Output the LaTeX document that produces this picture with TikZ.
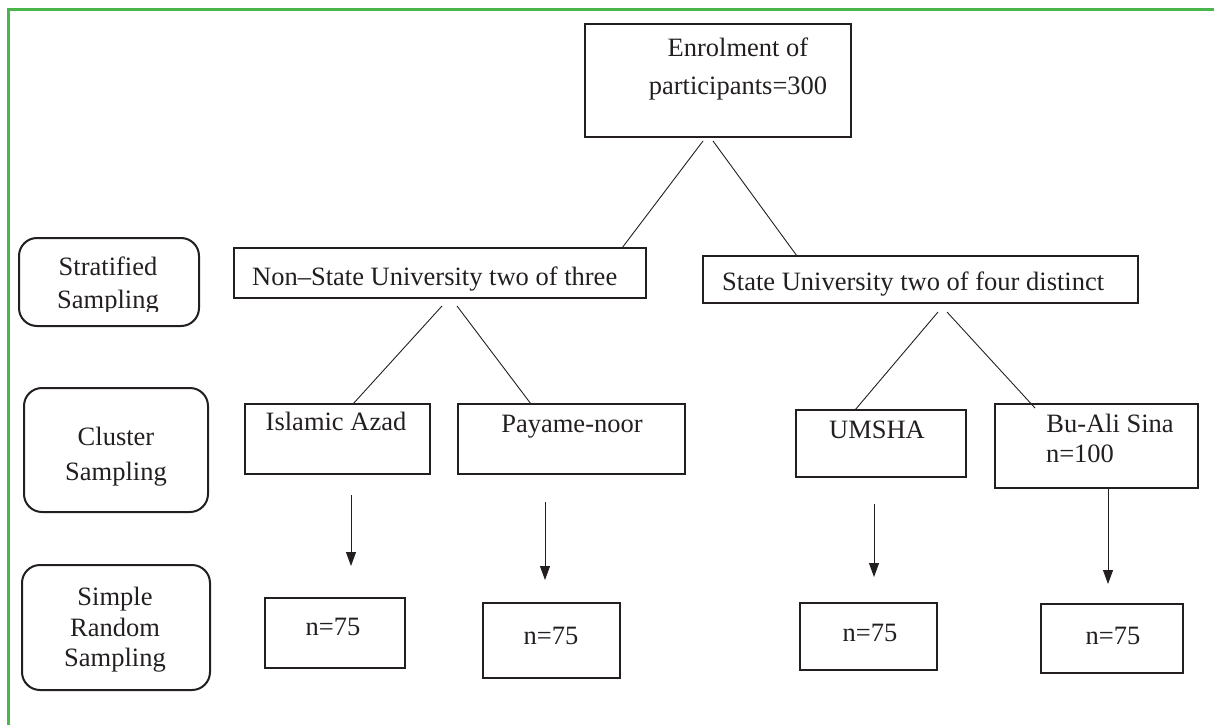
\documentclass[tikz,border=0pt]{standalone}
\usepackage{fontspec}
\setmainfont{Liberation Serif}
\usetikzlibrary{arrows.meta}
\definecolor{frame}{RGB}{72,182,76}
\definecolor{ink}{RGB}{35,31,32}
\begin{document}
\begin{tikzpicture}[x=1pt,y=-1pt,
  box/.style={draw=ink,line width=2.2pt,inner sep=0pt},
  rbox/.style={draw=ink,line width=2pt,rounded corners=18pt,inner sep=0pt},
  txt/.style={inner sep=0pt,font=\fontsize{26.5}{36}\selectfont,text=ink,align=center},
  link/.style={draw=ink,line width=0.9pt},
  arr/.style={draw=ink,line width=0.9pt,-{Triangle[width=10pt,length=14pt]}}]
\useasboundingbox (0,0) rectangle (1214,725);
\draw[frame,line width=3pt] (1214,10) -- (8,10) -- (8,725);

% boxes
\node[box,minimum width=266pt,minimum height=113pt] (top) at (718,80.5) {};
\node[rbox,minimum width=180pt,minimum height=88pt] (strat) at (109,282) {};
\node[box,minimum width=412pt,minimum height=50pt] (ns) at (440,273) {};
\node[box,minimum width=435pt,minimum height=47pt] (st) at (920.5,279.5) {};
\node[rbox,minimum width=184pt,minimum height=124pt] (clus) at (116,450) {};
\node[box,minimum width=185pt,minimum height=70pt] (ia) at (337.5,439) {};
\node[box,minimum width=227pt,minimum height=70pt] (pn) at (571.5,439) {};
\node[box,minimum width=170pt,minimum height=67pt] (um) at (881,443.5) {};
\node[box,minimum width=203pt,minimum height=84pt] (bu) at (1096.5,446) {};
\node[rbox,minimum width=188pt,minimum height=125pt] (srs) at (116,627.5) {};
\node[box,minimum width=140pt,minimum height=70pt] (n1) at (335,633) {};
\node[box,minimum width=137pt,minimum height=75pt] (n2) at (551.5,640.5) {};
\node[box,minimum width=137pt,minimum height=67pt] (n3) at (868.5,636.5) {};
\node[box,minimum width=142pt,minimum height=69pt] (n4) at (1112,638.5) {};

% texts
\node[txt,font=\fontsize{26.5}{38}\selectfont] (ttop) at (738,69) {Enrolment of\\participants=300};
\begin{scope}
  \clip (0,0) rectangle (1214,311);
  \node[txt,font=\fontsize{26.5}{33}\selectfont] (tstrat) at (108,286) {Stratified\\Sampling};
\end{scope}
\begin{scope}
  \clip (0,0) rectangle (1214,291.5);
  \node[txt,anchor=base west] (tns) at (252,285) {Non–State University two of three};
\end{scope}
\node[txt,anchor=base west] (tst) at (722,290) {State University two of four distinct};
\node[txt,font=\fontsize{26.5}{35}\selectfont] (tclus) at (116,457) {Cluster\\Sampling};
\node[txt,anchor=base] (tia) at (336,430) {Islamic Azad};
\node[txt,anchor=base] (tpn) at (572,432) {Payame-noor};
\node[txt,anchor=base] (tum) at (877,438) {UMSHA};
\node[txt,anchor=base] (tbu) at (1110,432) {Bu-Ali Sina};
\node[txt,anchor=base] (tbun) at (1080,462) {n=100};
\node[txt,font=\fontsize{26.5}{30.5}\selectfont] (tsrs) at (115,630) {Simple\\Random\\Sampling};
\node[txt,anchor=base] (tn1) at (333,635) {n=75};
\node[txt,anchor=base] (tn2) at (551,644) {n=75};
\node[txt,anchor=base] (tn3) at (870,641) {n=75};
\node[txt,anchor=base] (tn4) at (1113,644) {n=75};

% connector end points
\coordinate (c1) at (703,141);
\coordinate (c2) at (713,141);
\coordinate (c3) at (622,248);
\coordinate (c4) at (797,256);
\coordinate (d1) at (442,306);
\coordinate (d2) at (457,306);
\coordinate (d3) at (353,404);
\coordinate (d4) at (531,404);
\coordinate (e1) at (938,312);
\coordinate (e2) at (947,312);
\coordinate (e3) at (855,410);
\coordinate (e4) at (1035,408);
\coordinate (f1) at (351,495);
\coordinate (f2) at (545,502);
\coordinate (f3) at (874,504);
\coordinate (g1) at (351,566);
\coordinate (g2) at (545,580);
\coordinate (g3) at (874,577);
\coordinate (g4) at (1108,584);

\draw[link] (c1) -- (c3);
\draw[link] (c2) -- (c4);
\draw[link] (d1) -- (d3);
\draw[link] (d2) -- (d4);
\draw[link] (e1) -- (e3);
\draw[link] (e2) -- (e4);
\draw[arr] (f1) -- (g1);
\draw[arr] (f2) -- (g2);
\draw[arr] (f3) -- (g3);
\draw[arr] (bu.south -| g4) -- (g4);
\end{tikzpicture}
\end{document}
